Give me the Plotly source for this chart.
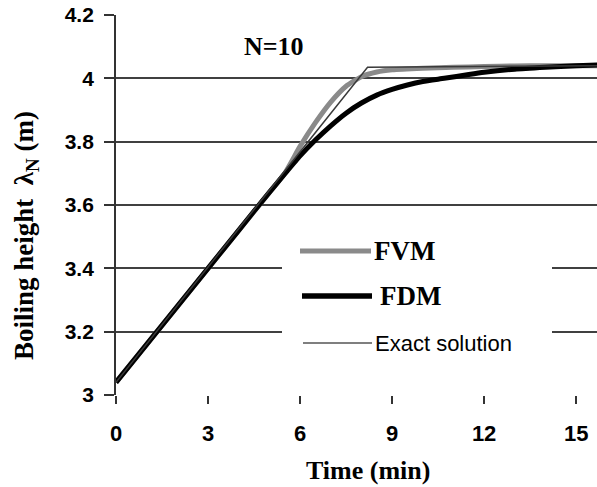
import plotly.graph_objects as go

# ---- data ----
time_fvm = [0, 1, 2, 3, 4, 5, 5.5, 6, 6.5, 7, 7.5, 8, 8.5, 9, 10, 11, 12, 13, 14, 15, 15.7]
height_fvm = [3.04, 3.16, 3.28, 3.40, 3.52, 3.64, 3.70, 3.785, 3.86, 3.925, 3.975, 4.005,
              4.02, 4.027, 4.032, 4.035, 4.037, 4.039, 4.04, 4.04, 4.04]

time_fdm = [0, 1, 2, 3, 4, 5, 5.5, 6, 6.5, 7, 7.5, 8, 8.5, 9, 9.5, 10, 10.7, 11.5, 12, 13, 14, 15, 15.7]
height_fdm = [3.04, 3.16, 3.28, 3.40, 3.52, 3.64, 3.698, 3.755, 3.805, 3.85, 3.89, 3.922,
              3.947, 3.965, 3.979, 3.99, 4.0, 4.012, 4.019, 4.029, 4.035, 4.04, 4.042]

time_exact = [0, 8.2, 15.7]
height_exact = [3.04, 4.035, 4.04]

x_ticks = [0, 3, 6, 9, 12, 15]
y_ticks = [3, 3.2, 3.4, 3.6, 3.8, 4, 4.2]

SERIF = "Liberation Serif"
SANS = "Liberation Sans"

fig = go.Figure()
fig.add_trace(go.Scatter(x=time_fvm, y=height_fvm, mode="lines", name="FVM",
                         line=dict(color="#8a8a8a", width=5, shape="spline", smoothing=0.5),
                         showlegend=False))
fig.add_trace(go.Scatter(x=time_fdm, y=height_fdm, mode="lines", name="FDM",
                         line=dict(color="#000000", width=5, shape="spline", smoothing=0.5),
                         showlegend=False))
fig.add_trace(go.Scatter(x=time_exact, y=height_exact, mode="lines", name="Exact solution",
                         line=dict(color="#3a3a3a", width=1.5), showlegend=False))

# manual legend (white box interrupting gridlines, samples and labels)
shapes = [
    dict(type="rect", xref="paper", yref="paper", x0=(282-116)/481, x1=(552-116)/481,
         y0=(395-368)/380, y1=(395-232)/380, fillcolor="white", line=dict(width=0), layer="above"),
    dict(type="line", xref="paper", yref="paper", x0=(300-116)/481, x1=(371-116)/481,
         y0=(395-251)/380, y1=(395-251)/380, line=dict(color="#8a8a8a", width=5)),
    dict(type="line", xref="paper", yref="paper", x0=(302-116)/481, x1=(372-116)/481,
         y0=(395-296)/380, y1=(395-296)/380, line=dict(color="#000000", width=5.5)),
    dict(type="line", xref="paper", yref="paper", x0=(303-116)/481, x1=(372-116)/481,
         y0=(395-343)/380, y1=(395-343)/380, line=dict(color="#555555", width=1.5)),
]

annotations = [
    dict(text="<b>FVM</b>", xref="paper", yref="paper", x=(372-116)/481, y=(395-251)/380,
         xanchor="left", yanchor="middle", showarrow=False, font=dict(family=SERIF, size=27, color="black")),
    dict(text="<b>FDM</b>", xref="paper", yref="paper", x=(378-116)/481, y=(395-296)/380,
         xanchor="left", yanchor="middle", showarrow=False, font=dict(family=SERIF, size=27, color="black")),
    dict(text="Exact solution", xref="paper", yref="paper", x=(373-116)/481, y=(395-343)/380,
         xanchor="left", yanchor="middle", showarrow=False, font=dict(family=SANS, size=22, color="black")),
    dict(text="<b>N=10</b>", xref="paper", yref="paper", x=(242-116)/481, y=(395-46)/380,
         xanchor="left", yanchor="middle", showarrow=False, font=dict(family=SERIF, size=26, color="black")),
    dict(text="<b>Time (min)</b>", xref="paper", yref="paper", x=(368-116)/481, y=(395-470)/380,
         xanchor="center", yanchor="middle", showarrow=False, font=dict(family=SERIF, size=26, color="black")),
    dict(text="<b>Boiling height  λ<sub>N</sub> (m)</b>", xref="paper", yref="paper",
         x=(26-116)/481, y=(395-236)/380, textangle=-90,
         xanchor="center", yanchor="middle", showarrow=False, font=dict(family=SERIF, size=27, color="black")),
]

fig.update_layout(
    width=597, height=487,
    margin=dict(l=116, r=0, t=15, b=92),
    paper_bgcolor="white", plot_bgcolor="white",
    shapes=shapes, annotations=annotations,
    xaxis=dict(range=[0, 15.68], tickvals=x_ticks, showgrid=False, zeroline=False,
               showline=False, ticks="outside", ticklen=8, tickwidth=1.5, tickcolor="#333",
               tickfont=dict(family=SANS, size=22, color="black", weight="bold"),
               ticklabelstandoff=11),
    yaxis=dict(range=[3, 4.2], tickvals=y_ticks, showgrid=True, gridcolor="#404040", gridwidth=1.8,
               zeroline=False, showline=True, linecolor="#333", linewidth=1.8,
               ticks="outside", ticklen=10, tickwidth=1.8, tickcolor="#333",
               tickfont=dict(family=SANS, size=21, color="black", weight="bold"),
               ticklabelstandoff=6),
)

fig.write_html("out.html")
